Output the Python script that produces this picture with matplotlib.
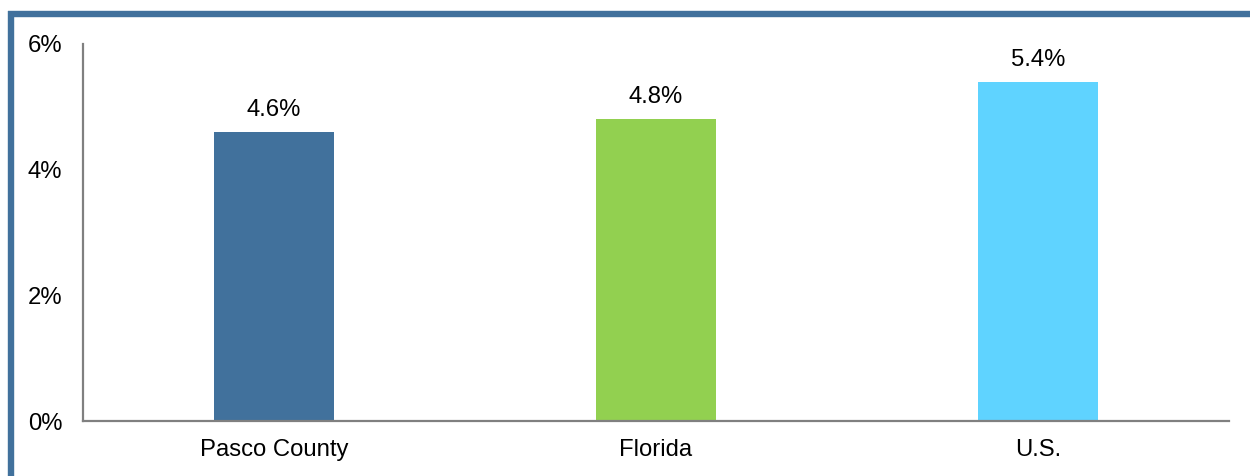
import matplotlib
matplotlib.use("Agg")
import matplotlib.pyplot as plt
from matplotlib.lines import Line2D

plt.rcParams['font.family'] = ['Liberation Sans', 'DejaVu Sans']

categories = ["Pasco County", "Florida", "U.S."]
values = [4.6, 4.8, 5.4]
labels = ["4.6%", "4.8%", "5.4%"]
colors = ["#41719C", "#92D050", "#5FD3FF"]
yticks = [0, 2, 4, 6]
ytick_labels = ["0%", "2%", "4%", "6%"]

W, H = 1250, 476
fig = plt.figure(figsize=(W / 100, H / 100), dpi=100)
ax = fig.add_axes([83 / W, 1 - 421 / H, (1229 - 83) / W, (421 - 44) / H])

x = range(len(categories))
ax.bar(x, values, width=0.314, color=colors)
ax.set_xlim(-0.5, len(categories) - 0.5)
ax.set_ylim(0, 6)
ax.set_yticks(yticks)
ax.set_yticklabels(ytick_labels)
ax.set_xticks(list(x))
ax.set_xticklabels(categories)
ax.tick_params(axis='both', length=0, labelsize=17.2, colors='black')
ax.tick_params(axis='y', pad=15)
ax.tick_params(axis='x', pad=13)

for s in ['top', 'right']:
    ax.spines[s].set_visible(False)
for s in ['left', 'bottom']:
    ax.spines[s].set_color('#808080')
    ax.spines[s].set_linewidth(1.6)

for xi, v, lab in zip(x, values, labels):
    ax.annotate(lab, (xi, v), xytext=(0, 8), textcoords='offset points',
                ha='center', va='bottom', fontsize=17.2)

# outer frame (top and left)
frame_c = "#41719C"
fig.add_artist(Line2D([8 / W, 1.0], [1 - 14 / H, 1 - 14 / H], transform=fig.transFigure,
                      color=frame_c, linewidth=4.6, solid_capstyle='butt'))
fig.add_artist(Line2D([11 / W, 11 / W], [0, 1 - 11 / H], transform=fig.transFigure,
                      color=frame_c, linewidth=4.6, solid_capstyle='butt'))

fig.savefig("out.png", dpi=100)
